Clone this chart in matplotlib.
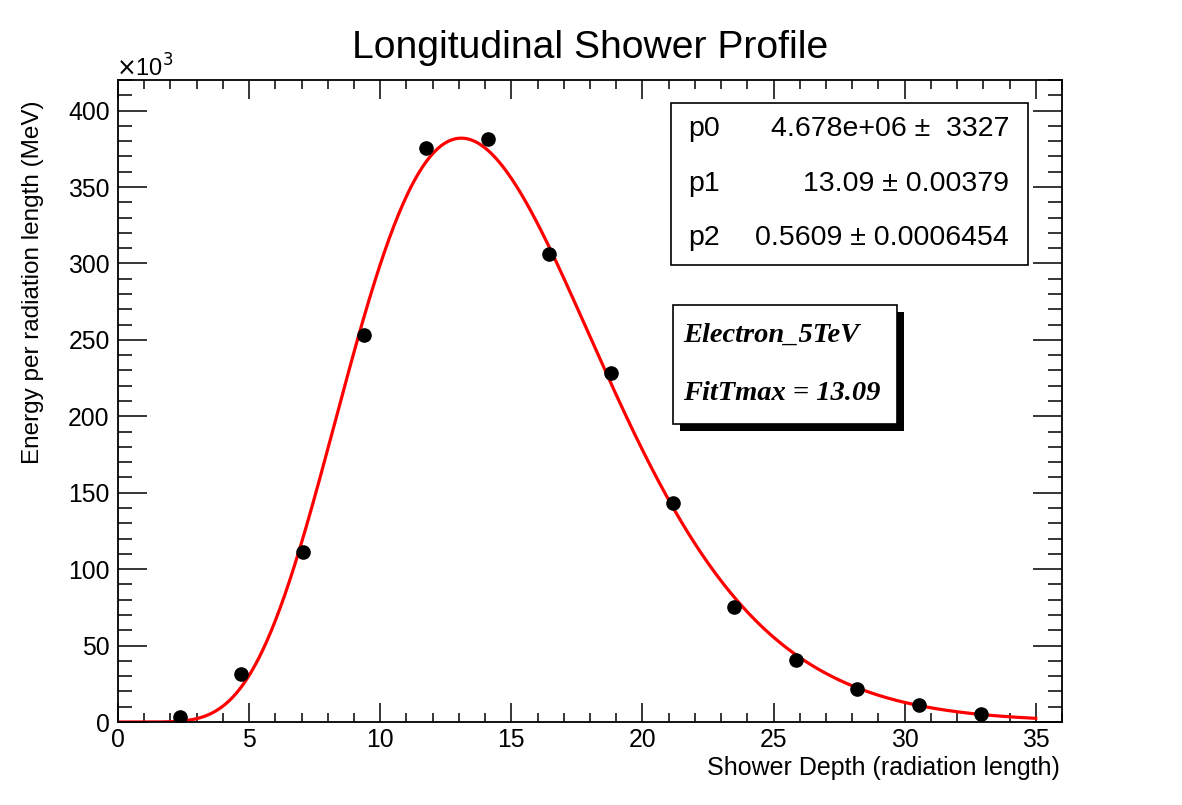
import math
import numpy as np
import matplotlib
matplotlib.use("Agg")
import matplotlib.pyplot as plt
from matplotlib.patches import Rectangle
from matplotlib.ticker import MultipleLocator, FuncFormatter

# ---- data ----
depth = [2.35, 4.70, 7.05, 9.40, 11.75, 14.10, 16.45, 18.80, 21.15, 23.50, 25.85, 28.20, 30.55, 32.90]
energy = [3300, 31400, 111000, 253500, 375500, 381500, 306000, 228500, 143000, 75000, 40500, 21800, 11200, 5200]

# fit parameters (as printed in the stat box)
p0, p1, p2 = 4.678e6, 13.09, 0.5609
fit_labels = ["p0", "p1", "p2"]
fit_values = ["4.678e+06 \u00b1  3327", "13.09 \u00b1 0.00379", "0.5609 \u00b1 0.0006454"]
box_lines = ["Electron_5TeV", "FitTmax = 13.09"]

W, H = 1182, 805
plt.rcParams['font.family'] = ['Liberation Sans', 'DejaVu Sans']
fig = plt.figure(figsize=(W / 100, H / 100), dpi=100)
fig.patch.set_facecolor('white')

L, R, T, B = 118, 1062, 80, 722
ax = fig.add_axes([L / W, 1 - B / H, (R - L) / W, (B - T) / H])

ax.plot(depth, energy, 'o', color='black', markersize=9.5, zorder=3)

# fit curve: gamma-type longitudinal profile with tmax = p1, b = p2
tt = np.linspace(0.0, 35.0, 600)
a1 = p1 * p2
norm = p0 * p2 / math.gamma(a1 + 1)
ff = norm * (p2 * tt) ** a1 * np.exp(-p2 * tt)
ax.plot(tt, ff, color='red', lw=2.3, zorder=2)

ax.set_xlim(0, 36)
ax.set_ylim(0, 420000)
ax.xaxis.set_major_locator(MultipleLocator(5))
ax.xaxis.set_minor_locator(MultipleLocator(1))
ax.yaxis.set_major_locator(MultipleLocator(50000))
ax.yaxis.set_minor_locator(MultipleLocator(10000))
ax.yaxis.set_major_formatter(FuncFormatter(lambda v, p: f"{v/1000:.0f}"))
ax.tick_params(axis='both', which='both', direction='in', top=True, right=True,
               labelsize=17.8, width=1.1, colors='black')
ax.tick_params(axis='x', which='major', length=13.5, pad=4)
ax.tick_params(axis='x', which='minor', length=6.5)
ax.tick_params(axis='y', which='major', length=21, pad=6)
ax.tick_params(axis='y', which='minor', length=10)
for s in ax.spines.values():
    s.set_linewidth(1.3)

# title and axis titles
fig.text(590 / W, 1 - 48 / H, "Longitudinal Shower Profile", ha='center', va='center', fontsize=28.2)
fig.text(1060 / W, 1 - 768 / H, "Shower Depth (radiation length)", ha='right', va='center', fontsize=18)
fig.text(33 / W, 1 - 100 / H, "Energy per radiation length (MeV)", ha='center', va='top',
         rotation=90, fontsize=17.5)
fig.text(116 / W, 1 - 68 / H, r"$\times$10$^{3}$", ha='left', va='center', fontsize=17)

# stat box
fig.patches.append(Rectangle((671 / W, 1 - 265 / H), (1028 - 671) / W, (265 - 103) / H,
                             transform=fig.transFigure, facecolor='white', edgecolor='black',
                             lw=1.2, zorder=5))
ys = [129, 184, 238]
for lab, val, y in zip(fit_labels, fit_values, ys):
    fig.text(688 / W, 1 - y / H, lab, ha='left', va='center', fontsize=20.5, zorder=6)
    fig.text(1009 / W, 1 - y / H, val, ha='right', va='center', fontsize=20.5, zorder=6)

# text box with shadow
bx0, bx1, by0, by1 = 673, 897, 305, 424
sh = 7
fig.patches.append(Rectangle(((bx0 + sh) / W, 1 - (by1 + sh) / H), (bx1 - bx0) / W, (by1 - by0) / H,
                             transform=fig.transFigure, facecolor='black', edgecolor='black',
                             lw=0, zorder=5))
fig.patches.append(Rectangle((bx0 / W, 1 - by1 / H), (bx1 - bx0) / W, (by1 - by0) / H,
                             transform=fig.transFigure, facecolor='white', edgecolor='black',
                             lw=1.2, zorder=6))
for txt, y in zip(box_lines, [335, 393]):
    fig.text(683 / W, 1 - y / H, txt, ha='left', va='center', fontsize=20.5,
             family=['Liberation Serif', 'DejaVu Serif'], weight='bold', style='italic', zorder=7)

fig.savefig("out.png", dpi=100)
